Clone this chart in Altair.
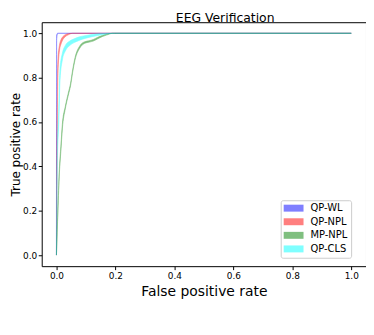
import altair as alt
import pandas as pd

series_names = ["QP-WL", "QP-NPL", "MP-NPL", "QP-CLS"]
series_colors = ["#0000ff", "#ff0000", "#008000", "#00ffff"]

wl_fpr = [0, 0.0005, 0.004, 1.0]
wl_lo = [0, 0.97, 1.0, 1.0]
wl_hi = [0, 0.99, 1.0, 1.0]

npl_fpr = [0, 0.002, 0.005, 0.01, 0.015, 0.02, 0.03, 0.04, 0.055, 1.0]
npl_lo = [0, 0.45, 0.82, 0.92, 0.95, 0.967, 0.985, 0.993, 1.0, 1.0]
npl_hi = [0, 0.55, 0.88, 0.945, 0.97, 0.982, 0.994, 0.998, 1.0, 1.0]

mp_fpr = [0, 0.005, 0.01, 0.015, 0.02, 0.03, 0.04, 0.048, 0.055, 0.063, 0.08,
          0.096, 0.11, 0.125, 0.14, 0.155, 0.17, 0.19, 1.0]
mp_lo = [0, 0.2, 0.37, 0.47, 0.57, 0.66, 0.72, 0.765, 0.825, 0.88, 0.935,
         0.955, 0.96, 0.965, 0.975, 0.985, 0.992, 1.0, 1.0]
mp_hi = [0, 0.22, 0.39, 0.49, 0.59, 0.67, 0.73, 0.775, 0.835, 0.89, 0.945,
         0.962, 0.966, 0.972, 0.982, 0.99, 0.996, 1.0, 1.0]

cls_fpr = [0, 0.003, 0.008, 0.012, 0.02, 0.03, 0.045, 0.06, 0.075, 0.1, 0.14, 0.2, 1.0]
cls_lo = [0, 0.42, 0.6, 0.79, 0.88, 0.92, 0.945, 0.958, 0.967, 0.978, 0.99, 1.0, 1.0]
cls_hi = [0, 0.48, 0.66, 0.84, 0.91, 0.945, 0.965, 0.975, 0.983, 0.99, 0.998, 1.0, 1.0]

x_ticks = [0.0, 0.2, 0.4, 0.6, 0.8, 1.0]
y_ticks = [0.0, 0.2, 0.4, 0.6, 0.8, 1.0]

rows = []
for name, f, lo, hi in [("QP-WL", wl_fpr, wl_lo, wl_hi),
                        ("QP-NPL", npl_fpr, npl_lo, npl_hi),
                        ("MP-NPL", mp_fpr, mp_lo, mp_hi),
                        ("QP-CLS", cls_fpr, cls_lo, cls_hi)]:
    for a, b, c in zip(f, lo, hi):
        rows.append({"series": name, "fpr": a, "lo": b, "hi": c})
df = pd.DataFrame(rows)

FONT = "DejaVu Sans"
scale = alt.Scale(domain=series_names, range=series_colors)

base = alt.Chart(df).mark_area(
    opacity=0.5, strokeWidth=0.6, interpolate="monotone"
).encode(
    x=alt.X("fpr:Q", scale=alt.Scale(domain=[-0.05, 1.05], nice=False, zero=False),
            axis=alt.Axis(values=x_ticks, format=".1f", title="False positive rate")),
    y=alt.Y("hi:Q", scale=alt.Scale(domain=[-0.05, 1.05], nice=False, zero=False),
            axis=alt.Axis(values=y_ticks, format=".1f", title="True positive rate")),
    y2="lo:Q",
    color=alt.Color("series:N", scale=scale, sort=series_names,
                    legend=alt.Legend(
                        title=None, orient="none", legendX=241, legendY=179.5,
                        symbolType="M-1,-0.7L3,-0.7L3,0.7L-1,0.7Z",
                        symbolSize=100, symbolOpacity=0.5, symbolStrokeWidth=0,
                        labelFontSize=10, labelFont=FONT, labelColor="#000000",
                        padding=3, strokeColor="#cccccc",
                        fillColor="rgba(255,255,255,0.8)", cornerRadius=2,
                        rowPadding=3.7, labelOffset=17)),
    stroke=alt.Stroke("series:N", scale=scale, sort=series_names, legend=None),
)

layers = [base.transform_filter(alt.datum.series == name) for name in series_names]

chart = alt.layer(*layers).properties(
    width=327, height=246,
    autosize=alt.AutoSizeParams(type="none"),
    padding={"left": 34, "top": 13, "right": 0, "bottom": 60},
    title=alt.TitleParams("EEG Verification", fontSize=12.5, font=FONT,
                          fontWeight="normal", anchor="middle", frame="group",
                          dx=21.5, offset=0, dy=1.8, color="#000000"),
).configure_view(
    stroke="#000000", strokeWidth=1
).configure_axis(
    grid=False, domain=False, tickColor="#000000", tickSize=3.5, tickWidth=1,
    labelFont=FONT, labelFontSize=9, labelColor="#000000", labelPadding=1.5,
    titleFont=FONT, titleFontWeight="normal", titleColor="#000000",
).configure_axisX(titlePadding=5, titleFontSize=14).configure_axisY(
    titlePadding=0.5, titleFontSize=12)

chart.save("out.html", embed_options={"renderer": "svg", "actions": False})
